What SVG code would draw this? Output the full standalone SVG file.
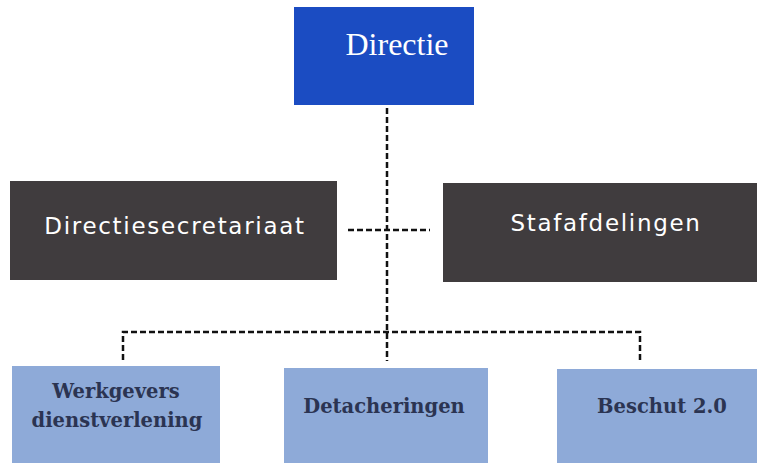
<svg xmlns="http://www.w3.org/2000/svg" width="757" height="463" viewBox="0 0 757 463">
<style>
.top{fill:#1b4cc2}
.dark{fill:#403c3e}
.light{fill:#8eaad8}
.t1{font-family:"Liberation Serif","DejaVu Serif",serif;font-size:32px;fill:#fff;text-anchor:middle}
.t2{font-family:"DejaVu Sans","Liberation Sans",sans-serif;font-size:23px;fill:#fff;text-anchor:middle;letter-spacing:1.7px}
.t3{font-family:"DejaVu Serif","Liberation Serif",serif;font-weight:bold;font-size:19.5px;fill:#2b3452;text-anchor:middle}
.c{fill:none;stroke:#111;stroke-width:2.5;stroke-dasharray:6 3}
</style>
<rect width="757" height="463" fill="#fff"/>
<g id="connectors">
<line class="c" x1="387" y1="108" x2="387" y2="361"/>
<line class="c" x1="348" y1="230" x2="430" y2="230"/>
<polyline class="c" points="123,360 123,332 640,332 640,360"/>
</g>
<g id="directie">
<rect class="top" x="294" y="7" width="180" height="98"/>
<text class="t1" x="397" y="55">Directie</text>
</g>
<g id="directiesecretariaat">
<rect class="dark" x="10" y="181" width="327" height="99"/>
<text class="t2" x="175" y="234">Directiesecretariaat</text>
</g>
<g id="stafafdelingen">
<rect class="dark" x="443" y="183" width="314" height="99"/>
<text class="t2" x="606" y="231">Stafafdelingen</text>
</g>
<g id="werkgevers">
<rect class="light" x="12" y="366" width="208" height="97"/>
<text class="t3" x="116" y="398">Werkgevers</text>
<text class="t3" x="117" y="427">dienstverlening</text>
</g>
<g id="detacheringen">
<rect class="light" x="284" y="368" width="204" height="95"/>
<text class="t3" x="384" y="413">Detacheringen</text>
</g>
<g id="beschut">
<rect class="light" x="557" y="369" width="200" height="94"/>
<text class="t3" x="662" y="413">Beschut 2.0</text>
</g>
</svg>
